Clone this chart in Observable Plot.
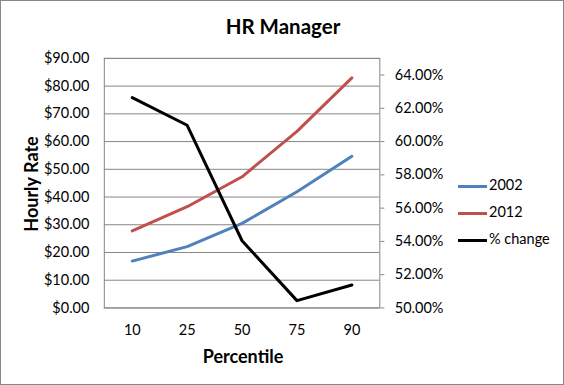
<!DOCTYPE html>
<html><head><meta charset="utf-8">
<script src="https://cdn.jsdelivr.net/npm/d3@7"></script>
<script src="https://cdn.jsdelivr.net/npm/@observablehq/plot@0.6"></script>
<style>
body{margin:0;background:#fff;}
#wrap{position:relative;width:564px;height:385px;box-sizing:border-box;border:1px solid #888;overflow:hidden;font-family:Lato,"Open Sans",sans-serif;}
#chart{position:absolute;left:-1px;top:-1px;}
#chart svg{font-family:Lato,"Open Sans",sans-serif;font-size:14.5px;color:#000;}
.t{position:absolute;font-weight:bold;color:#000;white-space:nowrap;}
#title{left:0;width:564px;top:13px;text-align:center;font-size:20.5px;}
#ylab{left:30px;top:183px;font-size:18px;transform:translate(-50%,-50%) rotate(-90deg);}
#xlab{left:242px;top:355px;font-size:18px;transform:translate(-50%,-50%);}
.leg{position:absolute;left:457px;font-size:14.5px;color:#000;white-space:nowrap;}
.leg span{display:inline-block;width:29px;height:3px;vertical-align:middle;margin-right:2px;}
</style></head>
<body><div id="wrap">
<div id="chart"></div>
<div class="t" id="title">HR Manager</div>
<div class="t" id="ylab">Hourly Rate</div>
<div class="t" id="xlab">Percentile</div>
<div class="leg" style="top:175px"><span style="background:#4F81BD"></span>2002</div>
<div class="leg" style="top:202px"><span style="background:#C0504D"></span>2012</div>
<div class="leg" style="top:229px"><span style="background:#000"></span>% change</div>
</div>
<script>
const percentiles = ["10","25","50","75","90"];
const rate2002 = [16.9, 22.1, 30.5, 41.9, 54.7];
const rate2012 = [27.8, 36.5, 47.3, 63.7, 83.0];
const pctChange = [0.6264, 0.6098, 0.5404, 0.5044, 0.5138];
const leftTicks = [0,10,20,30,40,50,60,70,80,90];
const rightTicks = [0.50,0.52,0.54,0.56,0.58,0.60,0.62,0.64];

const pMin = 0.50, pMax = 0.65, yMax = 90;
const toY = p => (p - pMin) / (pMax - pMin) * yMax;
const fromY = v => pMin + v / yMax * (pMax - pMin);

const rows = [];
percentiles.forEach((p,i)=>{
  rows.push({p, v: rate2002[i], s:"2002"});
  rows.push({p, v: rate2012[i], s:"2012"});
  rows.push({p, v: toY(pctChange[i]), s:"% change"});
});

const chart = Plot.plot({
  width: 564, height: 385,
  marginLeft: 104, marginRight: 184, marginTop: 58, marginBottom: 77,
  x: {type:"point", domain: percentiles, padding: 0.5},
  y: {domain:[0,yMax]},
  color: {domain:["2002","2012","% change"], range:["#4F81BD","#C0504D","#000000"]},
  marks: [
    Plot.gridY(leftTicks, {stroke:"#868686", strokeOpacity:1}),
    Plot.frame({stroke:"#868686"}),
    Plot.axisY({anchor:"left", ticks:leftTicks, tickFormat:d3.format("$.2f"), tickSize:0, tickPadding:15, label:null}),
    Plot.axisY({anchor:"right", ticks:rightTicks.map(toY), tickFormat:v=>d3.format(".2%")(fromY(v)), tickSize:4, tickPadding:11, stroke:"#868686", label:null}),
    Plot.axisX({tickSize:0, tickPadding:17, label:null}),
    Plot.line(rows, {x:"p", y:"v", z:"s", stroke:"s", strokeWidth:3, strokeLinejoin:"round"})
  ]
});
document.getElementById("chart").appendChild(chart);
</script>
</body></html>
